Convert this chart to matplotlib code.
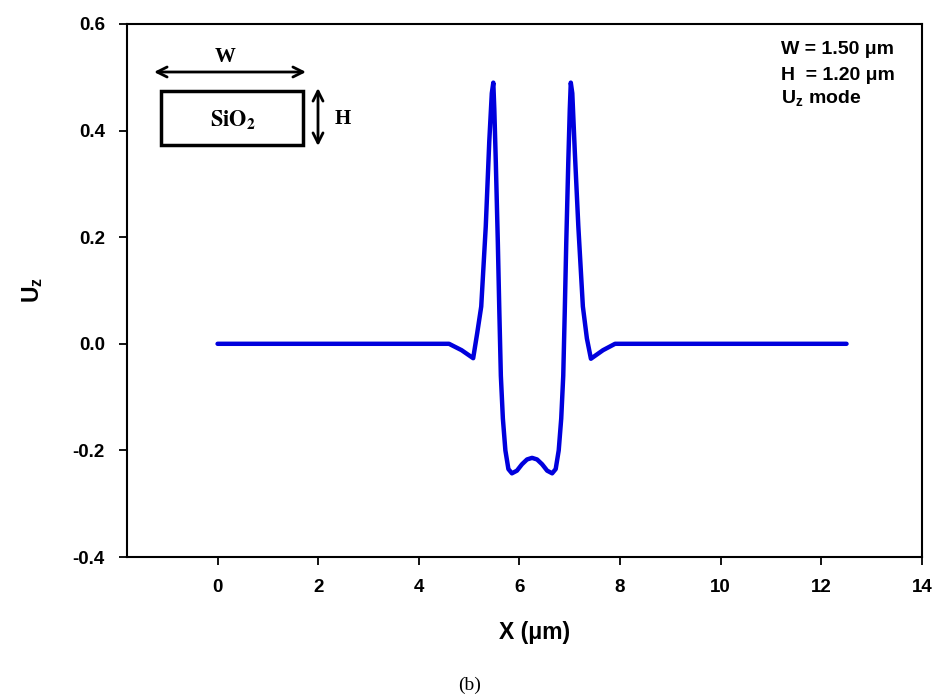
import matplotlib
matplotlib.use('Agg')
import matplotlib.pyplot as plt
from matplotlib.patches import Rectangle, FancyArrowPatch

# ---- data ----
x_um = [0.0, 1.0, 2.0, 3.0, 4.0, 4.2, 4.6, 4.85, 5.08, 5.16, 5.24, 5.33, 5.40, 5.45, 5.48,
        5.50, 5.53, 5.57, 5.60, 5.63, 5.67, 5.72, 5.78, 5.85, 5.95, 6.05, 6.15, 6.25,
        6.35, 6.45, 6.55, 6.65, 6.72, 6.78, 6.83, 6.87, 6.90, 6.93, 6.97, 7.00, 7.02,
        7.05, 7.10, 7.17, 7.26, 7.34, 7.42, 7.66, 7.90, 8.3, 9.0, 10.0, 11.0, 12.0, 12.5]
uz = [0.0, 0.0, 0.0, 0.0, 0.0, 0.0, 0.0, -0.012, -0.027, 0.02, 0.07, 0.22, 0.38, 0.47, 0.49,
      0.44, 0.34, 0.19, 0.06, -0.06, -0.14, -0.20, -0.235, -0.243, -0.238, -0.226, -0.217, -0.214,
      -0.217, -0.226, -0.238, -0.243, -0.235, -0.20, -0.14, -0.06, 0.06, 0.19, 0.34, 0.44, 0.49,
      0.47, 0.36, 0.22, 0.07, 0.01, -0.028, -0.012, 0.0, 0.0, 0.0, 0.0, 0.0, 0.0, 0.0]
x_ticks = [0, 2, 4, 6, 8, 10, 12, 14]
y_ticks = [-0.4, -0.2, 0.0, 0.2, 0.4, 0.6]
info_lines = ['W = 1.50 μm', 'H  = 1.20 μm', r'U$_{\mathbf{z}}$ mode']

plt.rcParams['font.family'] = ['Liberation Sans', 'DejaVu Sans']
plt.rcParams['mathtext.fontset'] = 'custom'
plt.rcParams['mathtext.bf'] = 'Liberation Sans:bold'
plt.rcParams['mathtext.rm'] = 'Liberation Sans'

W, Hh = 937, 700
def fx(px): return px / W
def fy(py): return 1 - py / Hh

fig = plt.figure(figsize=(W / 100, Hh / 100), dpi=100)
ax = fig.add_axes([fx(127), fy(557), (922 - 127) / W, (557 - 24) / Hh])
ax.plot(x_um, uz, color='#0000dd', lw=3.2, solid_joinstyle='round', solid_capstyle='round')
ax.set_xlim(-1.8, 14)
ax.set_ylim(-0.4, 0.6)
ax.set_xticks(x_ticks)
ax.set_xticklabels([str(v) for v in x_ticks])
ax.set_yticks(y_ticks)
ax.set_yticklabels([f'{v:.1f}' for v in y_ticks])
ax.tick_params(direction='out', length=6, width=1.3, labelsize=13.5, pad=10, top=False, right=False)
for lbl in ax.get_xticklabels() + ax.get_yticklabels():
    lbl.set_fontweight('bold')
for s in ax.spines.values():
    s.set_linewidth(1.5)

# axis labels
fig.text(fx(535), fy(632), 'X (μm)', fontsize=16.5, fontweight='bold', ha='center', va='center')
fig.text(fx(33), fy(290), r'U$_{\mathbf{z}}$', fontsize=16.5, fontweight='bold', rotation=90,
         ha='center', va='center')
fig.text(fx(470), fy(685), '(b)', fontsize=14, family='Liberation Serif', ha='center', va='center')

# info text
for t, py in zip(info_lines, [49, 76, 99]):
    fig.text(fx(781), fy(py), t, fontsize=14, fontweight='bold', ha='left', va='center')

# schematic inset
fig.add_artist(Rectangle((fx(161), fy(145)), (303 - 161) / W, (145 - 91) / Hh,
                         transform=fig.transFigure, fill=False, lw=2.5, ec='black'))
fig.add_artist(FancyArrowPatch((fx(154), fy(72)), (fx(306), fy(72)), arrowstyle='<->',
                               mutation_scale=18, lw=2, color='black', transform=fig.transFigure,
                               shrinkA=0, shrinkB=0))
fig.add_artist(FancyArrowPatch((fx(318), fy(88)), (fx(318), fy(146)), arrowstyle='<->',
                               mutation_scale=18, lw=2, color='black', transform=fig.transFigure,
                               shrinkA=0, shrinkB=0))
fig.text(fx(225), fy(57), 'W', fontsize=15, fontweight='bold', family='Liberation Serif',
         ha='center', va='center')
fig.text(fx(233), fy(120), r'$\mathbf{SiO_2}$', fontsize=16, math_fontfamily='stix',
         ha='center', va='center')
fig.text(fx(343), fy(119), 'H', fontsize=15, fontweight='bold', family='Liberation Serif',
         ha='center', va='center')

fig.savefig('out.png', dpi=100)
